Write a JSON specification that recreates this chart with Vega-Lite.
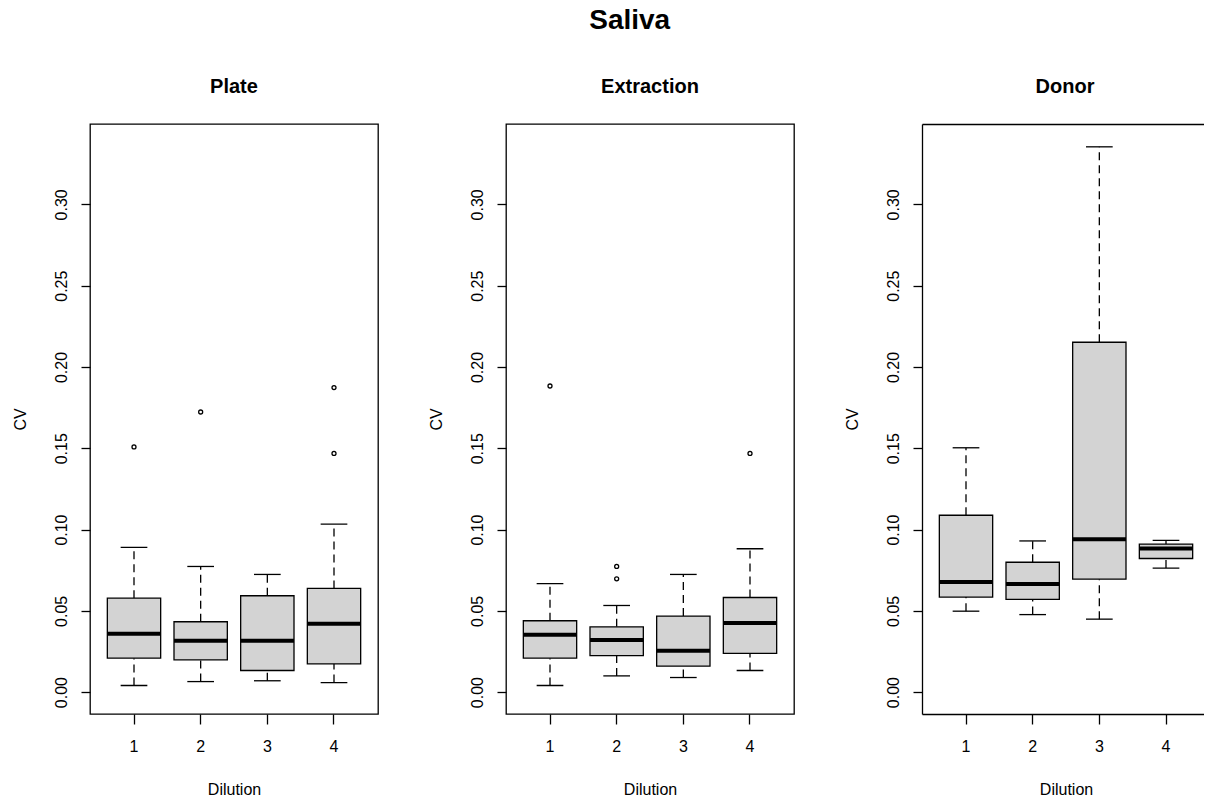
{
  "$schema": "https://vega.github.io/schema/vega-lite/v6.json",
  "title": {"text": "Saliva", "fontSize": 28, "fontWeight": "bold", "anchor": "middle", "baseline": "alphabetic", "offset": 18.7, "dx": 22},
  "bounds": "flush",
  "spacing": 128,
  "padding": {"left": 11, "top": 7, "right": 0, "bottom": 0},
  "datasets": {
    "stats": [
      {"panel": "Plate", "dilution": "1", "min": 0.0041, "q1": 0.0209, "med": 0.0359, "q3": 0.0578, "max": 0.0890},
      {"panel": "Plate", "dilution": "2", "min": 0.0065, "q1": 0.0199, "med": 0.0316, "q3": 0.0433, "max": 0.0773},
      {"panel": "Plate", "dilution": "3", "min": 0.0070, "q1": 0.0133, "med": 0.0316, "q3": 0.0593, "max": 0.0724},
      {"panel": "Plate", "dilution": "4", "min": 0.0059, "q1": 0.0174, "med": 0.0420, "q3": 0.0638, "max": 0.1034},
      {"panel": "Extraction", "dilution": "1", "min": 0.0041, "q1": 0.0209, "med": 0.0353, "q3": 0.0439, "max": 0.0668},
      {"panel": "Extraction", "dilution": "2", "min": 0.0100, "q1": 0.0225, "med": 0.0320, "q3": 0.0402, "max": 0.0533},
      {"panel": "Extraction", "dilution": "3", "min": 0.0090, "q1": 0.0160, "med": 0.0254, "q3": 0.0468, "max": 0.0724},
      {"panel": "Extraction", "dilution": "4", "min": 0.0133, "q1": 0.0238, "med": 0.0425, "q3": 0.0582, "max": 0.0882},
      {"panel": "Donor", "dilution": "1", "min": 0.0498, "q1": 0.0585, "med": 0.0677, "q3": 0.1088, "max": 0.1503},
      {"panel": "Donor", "dilution": "2", "min": 0.0477, "q1": 0.0571, "med": 0.0665, "q3": 0.0799, "max": 0.0930},
      {"panel": "Donor", "dilution": "3", "min": 0.0449, "q1": 0.0695, "med": 0.0940, "q3": 0.2152, "max": 0.3354},
      {"panel": "Donor", "dilution": "4", "min": 0.0763, "q1": 0.0822, "med": 0.0884, "q3": 0.0911, "max": 0.0933}
    ],
    "outliers": [
      {"panel": "Plate", "dilution": "1", "cv": 0.1508},
      {"panel": "Plate", "dilution": "2", "cv": 0.1723},
      {"panel": "Plate", "dilution": "4", "cv": 0.1873},
      {"panel": "Plate", "dilution": "4", "cv": 0.1468},
      {"panel": "Extraction", "dilution": "1", "cv": 0.1883},
      {"panel": "Extraction", "dilution": "2", "cv": 0.0773},
      {"panel": "Extraction", "dilution": "2", "cv": 0.0697},
      {"panel": "Extraction", "dilution": "4", "cv": 0.1468}
    ]
  },
  "hconcat": [
    {
      "width": 288, "height": 590,
      "title": {"text": "Plate"},
      "encoding": {"x": {"field": "dilution", "type": "ordinal", "scale": {"type": "band", "domain": ["1","2","3","4"], "paddingInner": 0.2, "paddingOuter": 0.26, "round": false}, "axis": {"title": "Dilution"}}},
      "layer": [
        {"data": {"name": "stats"}, "transform": [{"filter": "datum.panel === 'Plate'"}], "mark": {"type": "rule", "color": "black", "strokeWidth": 1.3, "strokeDash": [8, 5]},
         "encoding": {"y": {"field": "q3", "type": "quantitative", "scale": {"domain": [-0.01344, 0.34944], "nice": false, "zero": false}, "axis": {"title": "CV", "values": [0, 0.05, 0.1, 0.15, 0.2, 0.25, 0.3], "format": ".2f"}}, "y2": {"field": "max"}}},
        {"data": {"name": "stats"}, "transform": [{"filter": "datum.panel === 'Plate'"}], "mark": {"type": "rule", "color": "black", "strokeWidth": 1.3, "strokeDash": [8, 5]},
         "encoding": {"y": {"field": "min", "type": "quantitative"}, "y2": {"field": "q1"}}},
        {"data": {"name": "stats"}, "transform": [{"filter": "datum.panel === 'Plate'"}], "mark": {"type": "tick", "orient": "horizontal", "color": "black", "opacity": 1, "size": 26.7, "thickness": 1.3},
         "encoding": {"y": {"field": "max", "type": "quantitative"}}},
        {"data": {"name": "stats"}, "transform": [{"filter": "datum.panel === 'Plate'"}], "mark": {"type": "tick", "orient": "horizontal", "color": "black", "opacity": 1, "size": 26.7, "thickness": 1.3},
         "encoding": {"y": {"field": "min", "type": "quantitative"}}},
        {"data": {"name": "stats"}, "transform": [{"filter": "datum.panel === 'Plate'"}], "mark": {"type": "bar", "fill": "#d3d3d3", "stroke": "black", "strokeWidth": 1.3, "opacity": 1},
         "encoding": {"y": {"field": "q1", "type": "quantitative"}, "y2": {"field": "q3"}}},
        {"data": {"name": "stats"}, "transform": [{"filter": "datum.panel === 'Plate'"}], "mark": {"type": "tick", "orient": "horizontal", "color": "black", "opacity": 1, "size": 53.3, "thickness": 4},
         "encoding": {"y": {"field": "med", "type": "quantitative"}}},
        {"data": {"name": "outliers"}, "transform": [{"filter": "datum.panel === 'Plate'"}], "mark": {"type": "point", "filled": false, "stroke": "black", "strokeWidth": 1.3, "size": 16, "opacity": 1},
         "encoding": {"y": {"field": "cv", "type": "quantitative"}}}
      ]
    },
    {
      "width": 288, "height": 590,
      "title": {"text": "Extraction"},
      "encoding": {"x": {"field": "dilution", "type": "ordinal", "scale": {"type": "band", "domain": ["1","2","3","4"], "paddingInner": 0.2, "paddingOuter": 0.26, "round": false}, "axis": {"title": "Dilution"}}},
      "layer": [
        {"data": {"name": "stats"}, "transform": [{"filter": "datum.panel === 'Extraction'"}], "mark": {"type": "rule", "color": "black", "strokeWidth": 1.3, "strokeDash": [8, 5]},
         "encoding": {"y": {"field": "q3", "type": "quantitative", "scale": {"domain": [-0.01344, 0.34944], "nice": false, "zero": false}, "axis": {"title": "CV", "values": [0, 0.05, 0.1, 0.15, 0.2, 0.25, 0.3], "format": ".2f"}}, "y2": {"field": "max"}}},
        {"data": {"name": "stats"}, "transform": [{"filter": "datum.panel === 'Extraction'"}], "mark": {"type": "rule", "color": "black", "strokeWidth": 1.3, "strokeDash": [8, 5]},
         "encoding": {"y": {"field": "min", "type": "quantitative"}, "y2": {"field": "q1"}}},
        {"data": {"name": "stats"}, "transform": [{"filter": "datum.panel === 'Extraction'"}], "mark": {"type": "tick", "orient": "horizontal", "color": "black", "opacity": 1, "size": 26.7, "thickness": 1.3},
         "encoding": {"y": {"field": "max", "type": "quantitative"}}},
        {"data": {"name": "stats"}, "transform": [{"filter": "datum.panel === 'Extraction'"}], "mark": {"type": "tick", "orient": "horizontal", "color": "black", "opacity": 1, "size": 26.7, "thickness": 1.3},
         "encoding": {"y": {"field": "min", "type": "quantitative"}}},
        {"data": {"name": "stats"}, "transform": [{"filter": "datum.panel === 'Extraction'"}], "mark": {"type": "bar", "fill": "#d3d3d3", "stroke": "black", "strokeWidth": 1.3, "opacity": 1},
         "encoding": {"y": {"field": "q1", "type": "quantitative"}, "y2": {"field": "q3"}}},
        {"data": {"name": "stats"}, "transform": [{"filter": "datum.panel === 'Extraction'"}], "mark": {"type": "tick", "orient": "horizontal", "color": "black", "opacity": 1, "size": 53.3, "thickness": 4},
         "encoding": {"y": {"field": "med", "type": "quantitative"}}},
        {"data": {"name": "outliers"}, "transform": [{"filter": "datum.panel === 'Extraction'"}], "mark": {"type": "point", "filled": false, "stroke": "black", "strokeWidth": 1.3, "size": 16, "opacity": 1},
         "encoding": {"y": {"field": "cv", "type": "quantitative"}}}
      ]
    },
    {
      "width": 282, "height": 590,
      "title": {"text": "Donor", "dx": 2},
      "view": {"stroke": null},
      "resolve": {"axis": {"x": "independent"}},
      "layer": [
        {"data": {"name": "stats"}, "transform": [{"filter": "datum.panel === 'Donor'"}], "mark": {"type": "rule", "color": "black", "strokeWidth": 1.3, "strokeDash": [8, 5]},
         "encoding": {
           "x": {"field": "dilution", "type": "ordinal", "scale": {"type": "band", "domain": ["1","2","3","4"], "paddingInner": 0.2, "paddingOuter": 0.215, "align": 0.6047, "round": false}, "axis": {"title": "Dilution", "domain": true}},
           "y": {"field": "q3", "type": "quantitative", "scale": {"domain": [-0.01344, 0.34944], "nice": false, "zero": false}, "axis": {"title": "CV", "values": [0, 0.05, 0.1, 0.15, 0.2, 0.25, 0.3], "format": ".2f", "domain": true}}, "y2": {"field": "max"}}},
        {"data": {"name": "stats"}, "transform": [{"filter": "datum.panel === 'Donor'"}], "mark": {"type": "rule", "color": "black", "strokeWidth": 1.3, "strokeDash": [8, 5]},
         "encoding": {"x": {"field": "dilution", "type": "ordinal", "axis": null}, "y": {"field": "min", "type": "quantitative"}, "y2": {"field": "q1"}}},
        {"data": {"name": "stats"}, "transform": [{"filter": "datum.panel === 'Donor'"}], "mark": {"type": "tick", "orient": "horizontal", "color": "black", "opacity": 1, "size": 26.7, "thickness": 1.3},
         "encoding": {"x": {"field": "dilution", "type": "ordinal", "axis": null}, "y": {"field": "max", "type": "quantitative"}}},
        {"data": {"name": "stats"}, "transform": [{"filter": "datum.panel === 'Donor'"}], "mark": {"type": "tick", "orient": "horizontal", "color": "black", "opacity": 1, "size": 26.7, "thickness": 1.3},
         "encoding": {"x": {"field": "dilution", "type": "ordinal", "axis": null}, "y": {"field": "min", "type": "quantitative"}}},
        {"data": {"name": "stats"}, "transform": [{"filter": "datum.panel === 'Donor'"}], "mark": {"type": "bar", "fill": "#d3d3d3", "stroke": "black", "strokeWidth": 1.3, "opacity": 1},
         "encoding": {"x": {"field": "dilution", "type": "ordinal", "axis": null}, "y": {"field": "q1", "type": "quantitative"}, "y2": {"field": "q3"}}},
        {"data": {"name": "stats"}, "transform": [{"filter": "datum.panel === 'Donor'"}], "mark": {"type": "tick", "orient": "horizontal", "color": "black", "opacity": 1, "size": 53.3, "thickness": 4},
         "encoding": {"x": {"field": "dilution", "type": "ordinal", "axis": {"orient": "top", "labels": false, "ticks": false, "title": null, "domain": true}},
                      "y": {"field": "med", "type": "quantitative"}}}
      ]
    }
  ],
  "config": {
    "font": "Liberation Sans",
    "view": {"stroke": "black", "strokeWidth": 1.3},
    "title": {"font": "Liberation Sans", "color": "black", "fontWeight": "bold", "fontSize": 20, "anchor": "middle", "baseline": "alphabetic", "offset": 27.2},
    "axis": {"grid": false, "labelColor": "black", "labelFontSize": 16, "labelFont": "Liberation Sans", "titleFont": "Liberation Sans", "titleFontSize": 16, "titleFontWeight": "normal", "titleColor": "black", "tickColor": "black", "tickWidth": 1.3, "domainColor": "black", "domainWidth": 1.3, "labelFlush": false, "labelOverlap": false},
    "axisX": {"labelAngle": 0, "labelBaseline": "top", "labelPadding": 14.4, "tickSize": 10, "domain": false, "titleBaseline": "alphabetic", "titleY": 80, "titleX": 144},
    "axisY": {"labelAngle": -90, "labelAlign": "center", "labelBaseline": "alphabetic", "labelPadding": 15, "tickSize": 9, "domain": false, "titleAngle": -90, "titleAlign": "center", "titleBaseline": "alphabetic", "titleX": -65, "titleY": 295}
  }
}
